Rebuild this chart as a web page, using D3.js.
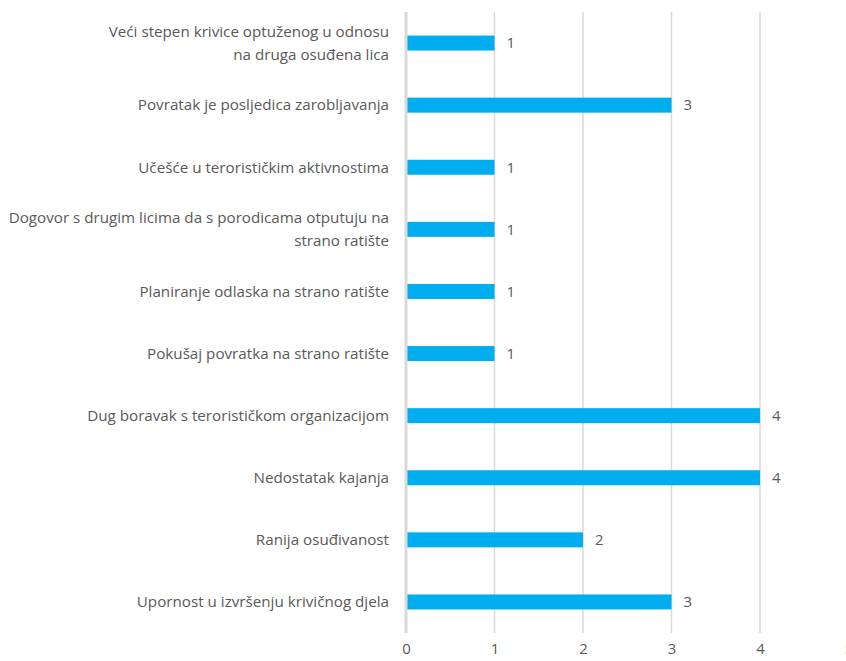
<!DOCTYPE html>
<html><head><meta charset="utf-8">
<script src="https://cdn.jsdelivr.net/npm/d3@7"></script>
<style>body{margin:0;background:#fff;} text{font-family:"Open Sans",sans-serif;fill:#595959;}</style>
</head><body>
<svg id="c" width="846" height="661"></svg>
<script>
const categories = [
  ["Veći stepen krivice optuženog u odnosu", "na druga osuđena lica"],
  ["Povratak je posljedica zarobljavanja"],
  ["Učešće u terorističkim aktivnostima"],
  ["Dogovor s drugim licima da s porodicama otputuju na", "strano ratište"],
  ["Planiranje odlaska na strano ratište"],
  ["Pokušaj povratka na strano ratište"],
  ["Dug boravak s terorističkom organizacijom"],
  ["Nedostatak kajanja"],
  ["Ranija osuđivanost"],
  ["Upornost u izvršenju krivičnog djela"]
];
const values = [1, 3, 1, 1, 1, 1, 4, 4, 2, 3];
const xTicks = [0, 1, 2, 3, 4, 5];

const svg = d3.select("#c");
const x = d3.scaleLinear().domain([0, 5]).range([406, 848.5]);
const y = d3.scaleBand().domain(d3.range(categories.length)).range([12, 633]).paddingInner(0).paddingOuter(0);
const barH = 15;

// gridlines
svg.append("g").selectAll("line").data(xTicks.filter(d => d > 0)).join("line")
  .attr("x1", d => x(d)).attr("x2", d => x(d))
  .attr("y1", 12).attr("y2", 633)
  .attr("stroke", "#d9d9d9").attr("stroke-width", 1.5);

// bars
svg.append("g").selectAll("rect").data(values).join("rect")
  .attr("x", x(0)).attr("y", (d, i) => y(i) + y.bandwidth() / 2 - barH / 2)
  .attr("width", d => x(d) - x(0)).attr("height", barH)
  .attr("fill", "#00AEEF");

// baseline axis
svg.append("line").attr("x1", x(0)).attr("x2", x(0)).attr("y1", 12).attr("y2", 633)
  .attr("stroke", "#d9d9d9").attr("stroke-width", 3);

// value labels
svg.append("g").selectAll("text").data(values).join("text")
  .attr("x", d => x(d) + 12).attr("y", (d, i) => y(i) + y.bandwidth() / 2)
  .attr("dy", "0.35em").attr("font-size", 15).text(d => d);

// category labels
const cl = svg.append("g").selectAll("g").data(categories).join("g")
  .attr("transform", (d, i) => `translate(389,${y(i) + y.bandwidth() / 2})`);
cl.each(function(lines) {
  const g = d3.select(this);
  const n = lines.length;
  lines.forEach((t, j) => {
    g.append("text").attr("text-anchor", "end").attr("font-size", 15.2)
      .attr("y", (j - (n - 1) / 2) * 23).attr("dy", "0.35em").text(t);
  });
});

// x tick labels
const xAxis = d3.axisBottom(x).tickValues(xTicks).tickSize(0).tickPadding(0).tickFormat(d3.format("d"));
const ax = svg.append("g").attr("transform", "translate(0,643)").call(xAxis);
ax.select(".domain").remove();
ax.selectAll("text").style("font-family", '"Open Sans",sans-serif').style("fill", "#595959").attr("font-size", 15);
</script>
</body></html>
